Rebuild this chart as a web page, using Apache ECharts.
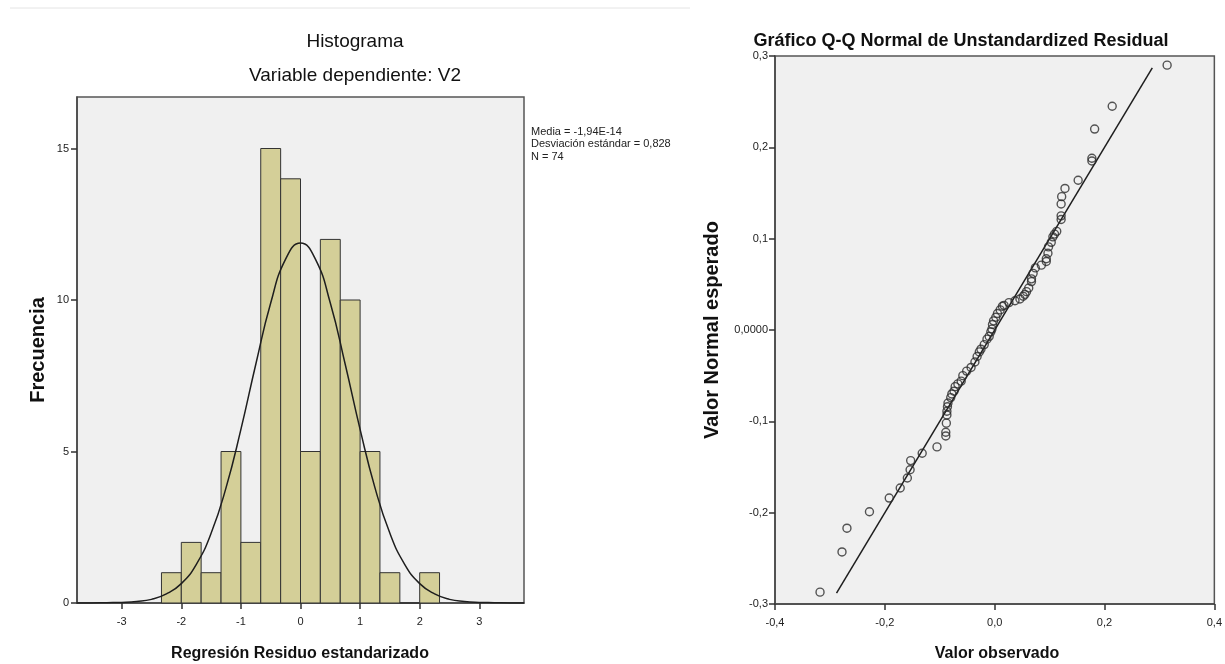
<!DOCTYPE html>
<html>
<head>
<meta charset="utf-8">
<title>Histograma / Q-Q</title>
<script src="https://cdn.jsdelivr.net/npm/echarts@6/dist/echarts.min.js"></script>
<style>
    html, body { margin: 0; padding: 0; background: #fff; }
    #main { width: 1225px; height: 664px; }
</style>
</head>
<body>
<div id="main"></div>
<script>
// histograma: limites de los intervalos (ancho 1/3) y frecuencias
var binEdges = [-2.333, -2, -1.667, -1.333, -1, -0.667, -0.333, 0, 0.333, 0.667, 1, 1.333, 1.667, 2, 2.333];
var binCounts = [1, 2, 1, 5, 2, 15, 14, 5, 12, 10, 5, 1, 0, 1];

// curva normal
var curveX = [-3.75, -3.5, -3.25, -3, -2.75, -2.5, -2.25, -2, -1.75, -1.5, -1.25, -1, -0.75, -0.5, -0.25, 0,
    0.25, 0.5, 0.75, 1, 1.25, 1.5, 1.75, 2, 2.25, 2.5, 2.75, 3, 3.25, 3.5, 3.75];
var curveY = [0, 0, 0.01, 0.02, 0.05, 0.12, 0.30, 0.64, 1.27, 2.30, 3.80, 5.73, 7.88, 9.90, 11.35, 11.88,
    11.35, 9.90, 7.88, 5.73, 3.80, 2.30, 1.27, 0.64, 0.30, 0.12, 0.05, 0.02, 0.01, 0, 0];

var histTicksX = [-3, -2, -1, 0, 1, 2, 3];
var histTicksY = [0, 5, 10, 15];
var statLines = ['Media = -1,94E-14', 'Desviación estándar = 0,828', 'N = 74'];

// grafico Q-Q: valor observado / valor normal esperado
var qqObserved = [-0.318, -0.278, -0.269, -0.228, -0.192, -0.172, -0.159, -0.154, -0.153, -0.132,
    -0.105, -0.089, -0.089, -0.088, -0.087, -0.087, -0.086, -0.085, -0.080, -0.078,
    -0.074, -0.072, -0.067, -0.061, -0.058, -0.051, -0.043, -0.036, -0.032, -0.028,
    -0.025, -0.019, -0.014, -0.010, -0.007, -0.005, -0.004, -0.002, 0.002, 0.005,
    0.010, 0.014, 0.017, 0.026, 0.037, 0.046, 0.052, 0.055, 0.058, 0.062,
    0.067, 0.067, 0.070, 0.074, 0.085, 0.094, 0.094, 0.097, 0.098, 0.103,
    0.106, 0.109, 0.113, 0.121, 0.121, 0.121, 0.122, 0.128, 0.152, 0.177,
    0.177, 0.182, 0.214, 0.314];
var qqExpected = [-0.287, -0.243, -0.217, -0.199, -0.184, -0.173, -0.162, -0.153, -0.143, -0.135,
    -0.128, -0.116, -0.112, -0.102, -0.093, -0.089, -0.084, -0.080, -0.074, -0.070,
    -0.067, -0.062, -0.059, -0.056, -0.050, -0.045, -0.041, -0.035, -0.029, -0.024,
    -0.021, -0.016, -0.010, -0.007, -0.002, 0.001, 0.006, 0.010, 0.014, 0.018,
    0.022, 0.026, 0.027, 0.030, 0.032, 0.034, 0.037, 0.039, 0.042, 0.046,
    0.053, 0.056, 0.062, 0.068, 0.071, 0.075, 0.078, 0.084, 0.091, 0.096,
    0.102, 0.105, 0.108, 0.121, 0.125, 0.138, 0.146, 0.155, 0.164, 0.185,
    0.188, 0.220, 0.245, 0.290];
var refLineX = [-0.288, 0.287];
var refLineY = [-0.288, 0.287];

var qqTicksX = [-0.4, -0.2, 0, 0.2, 0.4];
var qqTicksY = [-0.3, -0.2, -0.1, 0, 0.1, 0.2, 0.3];

var FONT = '"Liberation Sans", Arial, sans-serif';

function comma(v, dec) {
    return v.toFixed(dec).replace('.', ',');
}

var histData = [];
for (var i = 0; i < binCounts.length; i++) {
    histData.push([binEdges[i], binEdges[i + 1], binCounts[i]]);
}
var curveData = [];
for (var j = 0; j < curveX.length; j++) {
    curveData.push([curveX[j], curveY[j]]);
}
var qqData = [];
for (var k = 0; k < qqObserved.length; k++) {
    qqData.push([qqObserved[k], qqExpected[k]]);
}

function renderBin(params, api) {
    var p0 = api.coord([api.value(0), api.value(2)]);
    var p1 = api.coord([api.value(1), 0]);
    return {
        type: 'rect',
        shape: { x: p0[0], y: p0[1], width: p1[0] - p0[0], height: p1[1] - p0[1] },
        style: { fill: '#d4cf98', stroke: '#333', lineWidth: 1 }
    };
}

// ejes: sin cruce en cero, marcas hacia fuera
function axisCfg(ticks, margin, fmt) {
    return {
        splitLine: { show: false },
        axisLine: { show: true, onZero: false, lineStyle: { color: '#444', width: 1.5 } },
        axisTick: { show: true, length: 6, lineStyle: { color: '#333', width: 1.5 }, customValues: ticks },
        axisLabel: { color: '#222', fontSize: 11, fontFamily: FONT, margin: margin, customValues: ticks, formatter: fmt }
    };
}

var statGraphics = [];
for (var s = 0; s < statLines.length; s++) {
    statGraphics.push({
        type: 'text', left: 531, top: 126 + s * 12.5,
        style: { text: statLines[s], fill: '#222', font: '11px ' + FONT }
    });
}

var myChart = echarts.init(document.getElementById('main'));
var option = {
    backgroundColor: '#fff',
    animation: false,
    grid: [
        { left: 77, right: 701, top: 97, bottom: 61, show: true, backgroundColor: '#f0f0f0', borderColor: '#555', borderWidth: 1.5 },
        { left: 775, right: 5, top: 56, bottom: 60, show: true, backgroundColor: '#f0f0f0', borderColor: '#555', borderWidth: 1.5 }
    ],
    xAxis: [
        echarts.util.extend({ type: 'value', gridIndex: 0, min: -3.75, max: 3.75 },
            axisCfg(histTicksX, 13, function (v) { return String(v); })),
        echarts.util.extend({ type: 'value', gridIndex: 1, min: -0.4, max: 0.4 },
            axisCfg(qqTicksX, 13, function (v) { return comma(v, 1); }))
    ],
    yAxis: [
        echarts.util.extend({ type: 'value', gridIndex: 0, min: 0, max: 16.7 },
            axisCfg(histTicksY, 8, function (v) { return String(v); })),
        echarts.util.extend({ type: 'value', gridIndex: 1, min: -0.3, max: 0.3 },
            axisCfg(qqTicksY, 7, function (v) { return Math.abs(v) < 1e-9 ? '0,0000' : comma(v, 1); }))
    ],
    series: [
        {
            type: 'custom', xAxisIndex: 0, yAxisIndex: 0,
            renderItem: renderBin,
            encode: { x: [0, 1], y: 2 },
            data: histData
        },
        {
            type: 'line', xAxisIndex: 0, yAxisIndex: 0,
            data: curveData, smooth: true, showSymbol: false,
            lineStyle: { color: '#1e1e1e', width: 1.5 }, z: 5
        },
        {
            type: 'line', xAxisIndex: 1, yAxisIndex: 1,
            data: [[refLineX[0], refLineY[0]], [refLineX[1], refLineY[1]]],
            showSymbol: false, lineStyle: { color: '#1e1e1e', width: 1.5 }
        },
        {
            type: 'scatter', xAxisIndex: 1, yAxisIndex: 1,
            data: qqData, symbol: 'circle', symbolSize: 8,
            itemStyle: { color: 'rgba(0,0,0,0)', borderColor: '#2a2a2a', borderWidth: 1.4 }, z: 4
        }
    ],
    graphic: [
        { type: 'line', shape: { x1: 10, y1: 8, x2: 690, y2: 8 }, style: { stroke: '#e4e4e4', lineWidth: 1 } },
        { type: 'text', x: 355, y: 42, style: { text: 'Histograma', fill: '#111', font: '19px ' + FONT, textAlign: 'center', textVerticalAlign: 'middle' } },
        { type: 'text', x: 355, y: 76, style: { text: 'Variable dependiente: V2', fill: '#111', font: '19px ' + FONT, textAlign: 'center', textVerticalAlign: 'middle' } },
        { type: 'text', x: 300, y: 654, style: { text: 'Regresión Residuo estandarizado', fill: '#111', font: 'bold 16px ' + FONT, textAlign: 'center', textVerticalAlign: 'middle' } },
        { type: 'text', x: 38, y: 350, rotation: Math.PI / 2, style: { text: 'Frecuencia', fill: '#111', font: 'bold 20px ' + FONT, textAlign: 'center', textVerticalAlign: 'middle' } },
        { type: 'text', x: 961, y: 41, style: { text: 'Gráfico Q-Q Normal de Unstandardized Residual', fill: '#111', font: 'bold 18px ' + FONT, textAlign: 'center', textVerticalAlign: 'middle' } },
        { type: 'text', x: 997, y: 654, style: { text: 'Valor observado', fill: '#111', font: 'bold 16px ' + FONT, textAlign: 'center', textVerticalAlign: 'middle' } },
        { type: 'text', x: 712, y: 330, rotation: Math.PI / 2, style: { text: 'Valor Normal esperado', fill: '#111', font: 'bold 20px ' + FONT, textAlign: 'center', textVerticalAlign: 'middle' } }
    ].concat(statGraphics)
};
myChart.setOption(option);
</script>
</body>
</html>
